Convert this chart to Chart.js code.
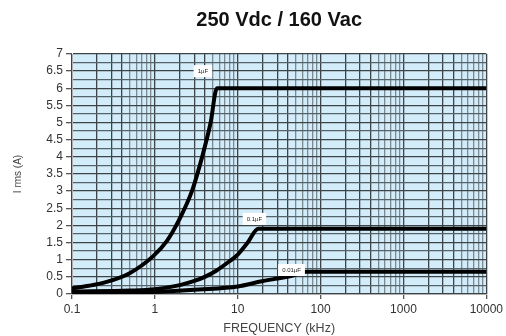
<!DOCTYPE html>
<html>
<head>
<meta charset="utf-8">
<script src="https://cdn.jsdelivr.net/npm/chart.js@4/dist/chart.umd.min.js"></script>
<style>
  html, body { margin: 0; padding: 0; background: #fff; }
  #wrap { width: 506px; height: 336px; }
</style>
</head>
<body>
<div id="wrap"><canvas id="chart"></canvas></div>
<script>
// decade labels on the frequency axis (kHz)
const xDecades = [0.1, 1, 10, 100, 1000, 10000];
const xTickLabels = ['0.1', '1', '10', '100', '1000', '10000'];
const yTickLabels = ['0', '0.5', '1', '1.5', '2', '2.5', '3', '3.5', '4', '4.5', '5', '5.5', '6', '6.5', '7'];

// curves
const freq1uF = [0.1, 0.16, 0.25, 0.49, 0.94, 1.4, 1.96, 2.83, 3.72, 4.69, 5.62, 10000];
const irms1uF = [0.17, 0.24, 0.34, 0.6, 1.09, 1.55, 2.16, 3.03, 4.0, 4.98, 6, 6];

const freq01uF = [0.1, 0.5, 1, 2, 3, 4, 5.5, 7.8, 10, 13, 17.8, 10000];
const irms01uF = [0.07, 0.1, 0.14, 0.26, 0.38, 0.5, 0.68, 0.94, 1.15, 1.48, 1.9, 1.9];

const freq001uF = [0.1, 1, 3.4, 10, 19.5, 30, 44, 67, 10000];
const irms001uF = [0.03, 0.06, 0.13, 0.22, 0.37, 0.45, 0.52, 0.65, 0.65];

// curve captions
const capText = ['1µF', '0.1µF', '0.01µF'];
const capFreq = [3.8, 15.9, 44.6];
const capIrms = [6.5, 2.19, 0.7];

function pts(xs, ys) {
  return xs.map((x, i) => ({ x: x, y: ys[i] }));
}

// every gridline value of the log axis: 1..9 per decade
const xGrid = [];
xDecades.forEach(d => {
  if (d === 10000) { xGrid.push(d); return; }
  for (let m = 1; m <= 9; m++) xGrid.push(+(d * m).toPrecision(3));
});

const darkGrid = '#3c4447';
const lightGrid = '#7c8b92';
const font = '"Liberation Sans", Arial, sans-serif';

const plotBg = {
  id: 'plotBg',
  beforeDraw(chart) {
    const a = chart.chartArea, ctx = chart.ctx;
    ctx.save();
    ctx.fillStyle = '#d3ecf9';
    ctx.fillRect(a.left, a.top, a.right - a.left, a.bottom - a.top);
    ctx.restore();
  }
};

const captions = {
  id: 'captions',
  afterDatasetsDraw(chart) {
    const ctx = chart.ctx, xs = chart.scales.x, ys = chart.scales.y;
    ctx.save();
    ctx.font = '6px ' + font;
    ctx.textAlign = 'center';
    ctx.textBaseline = 'middle';
    capText.forEach((t, i) => {
      const px = xs.getPixelForValue(capFreq[i]);
      const py = ys.getPixelForValue(capIrms[i]);
      const w = ctx.measureText(t).width + 8;
      ctx.fillStyle = '#fff';
      ctx.fillRect(px - w / 2, py - 6, w, 12);
      ctx.fillStyle = '#222';
      ctx.fillText(t, px, py);
    });
    ctx.restore();
  }
};

const lineStyle = {
  borderColor: '#000',
  borderWidth: 4,
  pointRadius: 0,
  fill: false,
  cubicInterpolationMode: 'monotone'
};

new Chart(document.getElementById('chart').getContext('2d'), {
  type: 'line',
  data: {
    datasets: [
      Object.assign({ label: '1µF', data: pts(freq1uF, irms1uF) }, lineStyle),
      Object.assign({ label: '0.1µF', data: pts(freq01uF, irms01uF) }, lineStyle),
      Object.assign({ label: '0.01µF', data: pts(freq001uF, irms001uF) }, lineStyle)
    ]
  },
  options: {
    responsive: true,
    maintainAspectRatio: false,
    animation: false,
    layout: { padding: { left: 0, right: 16, top: 0, bottom: 0 } },
    plugins: {
      legend: { display: false },
      tooltip: { enabled: false },
      title: {
        display: true,
        fullSize: false,
        text: '250 Vdc / 160 Vac',
        color: '#111',
        font: { family: font, size: 20, weight: 'bold' },
        padding: { top: 8, bottom: 22 }
      }
    },
    scales: {
      x: {
        type: 'logarithmic',
        min: 0.1,
        max: 10000,
        afterBuildTicks(scale) {
          scale.ticks = xGrid.map(v => ({ value: v }));
        },
        afterFit(scale) { scale.height = 42; },
        ticks: {
          autoSkip: false,
          maxRotation: 0,
          color: '#333',
          padding: 3,
          font: { family: font, size: 12 },
          callback(v) {
            const i = xDecades.findIndex(d => Math.abs(d - v) < d * 1e-6);
            return i >= 0 ? xTickLabels[i] : '';
          }
        },
        grid: {
          drawTicks: true,
          tickLength: 5,
          lineWidth: 1.3,
          color(c) {
            if (!c.tick) return darkGrid;
            const v = c.tick.value;
            const m = Math.round(v / Math.pow(10, Math.floor(Math.log10(v) + 1e-9)));
            return m <= 4 ? darkGrid : lightGrid;
          },
          tickColor(c) {
            if (!c.tick) return 'transparent';
            const v = c.tick.value;
            return xDecades.some(d => Math.abs(d - v) < d * 1e-6) ? '#555' : 'transparent';
          }
        },
        border: { color: '#b0b0b0', width: 1 },
        title: {
          display: true,
          text: 'FREQUENCY (kHz)',
          color: '#444',
          font: { family: font, size: 12.5 },
          padding: { top: 1, bottom: 0 }
        }
      },
      y: {
        min: 0,
        max: 7,
        afterBuildTicks(scale) {
          const t = [];
          for (let i = 0; i <= 28; i++) t.push({ value: i * 0.25 });
          scale.ticks = t;
        },
        afterFit(scale) { scale.width = 72; },
        ticks: {
          autoSkip: false,
          color: '#333',
          padding: 3,
          font: { family: font, size: 12 },
          callback(v) {
            const i = Math.round(v * 2);
            return Math.abs(v * 2 - i) < 1e-6 ? yTickLabels[i] : '';
          }
        },
        grid: {
          drawTicks: true,
          tickLength: 6,
          lineWidth: 1.3,
          color(c) {
            if (!c.tick) return darkGrid;
            return Math.abs(c.tick.value * 2 - Math.round(c.tick.value * 2)) < 1e-6 ? darkGrid : '#55626a';
          },
          tickColor(c) {
            if (!c.tick) return 'transparent';
            return Math.abs(c.tick.value * 2 - Math.round(c.tick.value * 2)) < 1e-6 ? '#555' : 'transparent';
          }
        },
        border: { color: '#b0b0b0', width: 1 },
        title: {
          display: true,
          text: 'I rms (A)',
          color: '#444',
          font: { family: font, size: 10 },
          padding: { top: 12, bottom: 0 }
        }
      }
    }
  },
  plugins: [plotBg, captions]
});
</script>
</body>
</html>
